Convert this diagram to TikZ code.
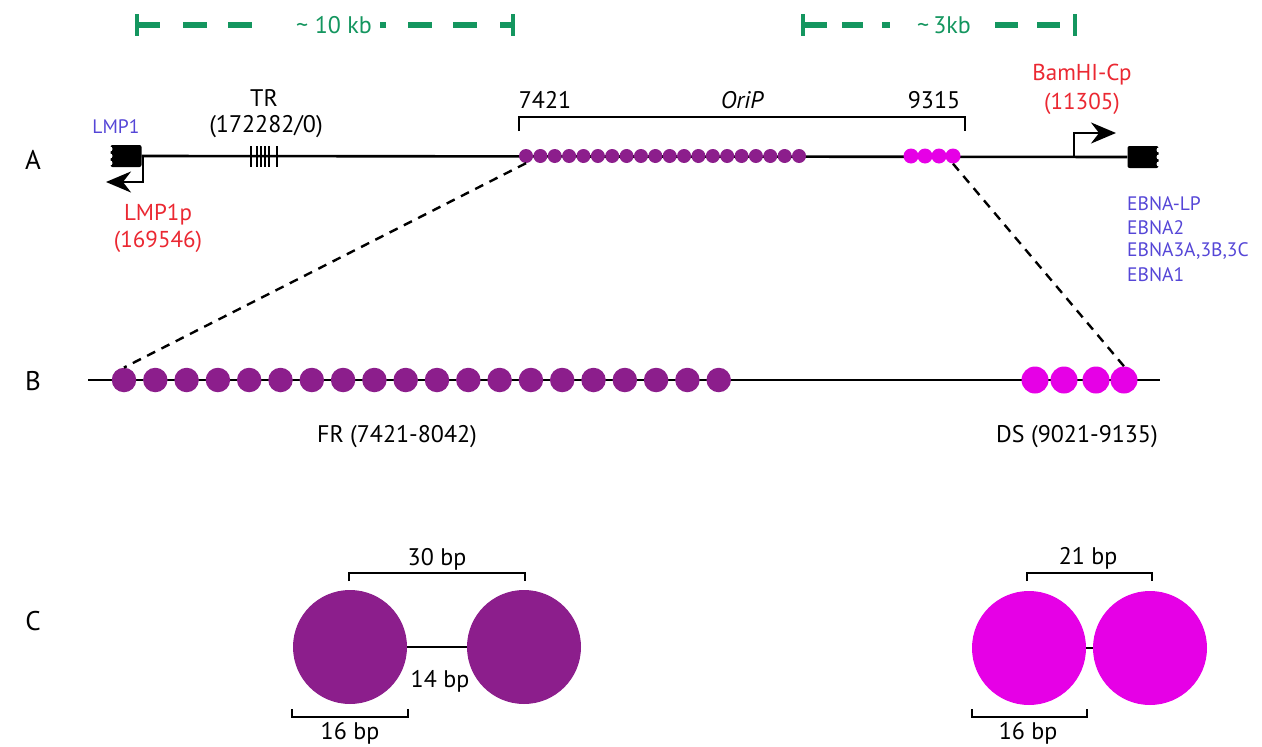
\documentclass[tikz,border=0pt]{standalone}
\usepackage{fontspec}
\setmainfont{PT Sans}
\usetikzlibrary{arrows.meta}
\definecolor{frpurple}{RGB}{140,30,140}
\definecolor{dsmag}{RGB}{230,0,230}
\definecolor{scalegreen}{RGB}{20,150,95}
\definecolor{genblue}{RGB}{85,70,215}
\definecolor{promred}{RGB}{235,40,50}
\begin{document}
\begin{tikzpicture}[x=1pt,y=-1pt,
  lbl/.style={font=\fontsize{24}{28}\selectfont, inner sep=0pt},
  plbl/.style={font=\fontsize{27}{31}\selectfont, inner sep=0pt},
  blbl/.style={font=\fontsize{19.5}{23}\selectfont, text=genblue, inner sep=0pt, anchor=west},
  rlbl/.style={font=\fontsize{23}{27}\selectfont, text=promred, inner sep=0pt},
  glbl/.style={font=\fontsize{24}{28}\selectfont, text=scalegreen, inner sep=0pt},
  gbar/.style={draw=scalegreen, line width=6pt},
  gtick/.style={draw=scalegreen, line width=4.5pt},
  dnaline/.style={draw=black, line width=2.6pt},
  brack/.style={draw=black, line width=2.5pt},
  genebox/.style={fill=black, draw=none, rounded corners=2pt, minimum width=31pt, minimum height=22pt, inner sep=0pt},
  notch/.style={fill=white, draw=none, circle, minimum size=5pt, inner sep=0pt},
  frA/.style={circle, fill=frpurple, draw=none, minimum size=14pt, inner sep=0pt},
  dsA/.style={circle, fill=dsmag, draw=none, minimum size=15pt, inner sep=0pt},
  frB/.style={circle, fill=frpurple, draw=none, minimum size=24.5pt, inner sep=0pt},
  dsB/.style={circle, fill=dsmag, draw=none, minimum size=27pt, inner sep=0pt},
  frC/.style={circle, fill=frpurple, draw=none, minimum size=114pt, inner sep=0pt},
  dsC/.style={circle, fill=dsmag, draw=none, minimum size=114pt, inner sep=0pt},
  zoomline/.style={draw=black, line width=2.4pt, dash pattern=on 9pt off 7pt},
  prom/.style={draw=black, line width=2.6pt, -{Stealth[length=25pt,width=21pt,inset=8pt]}}
]
\useasboundingbox (0,0) rectangle (1262,747);
\fill[white] (0,0) rectangle (1262,747);

% ---------- green scale bars ----------
\draw[gtick] (137,14) -- (137,36);
\draw[gbar] (137,25) -- (160,25);
\draw[gbar] (183,25) -- (207,25);
\draw[gbar] (228,25) -- (252,25);
\node[glbl] (kb10) at (334,25) {\textasciitilde\ 10 kb};
\draw[gbar] (380,25) -- (386,25);
\draw[gbar] (408,25) -- (432,25);
\draw[gbar] (453,25) -- (477,25);
\draw[gbar] (500,25) -- (513,25);
\draw[gtick] (513,14) -- (513,36);

\draw[gtick] (803,14) -- (803,36);
\draw[gbar] (803,25) -- (827,25);
\draw[gbar] (842,25) -- (863,25);
\draw[gbar] (882,25) -- (890,25);
\node[glbl] (kb3) at (944,25) {\textasciitilde\,3kb};
\draw[gbar] (995,25) -- (1018,25);
\draw[gbar] (1037,25) -- (1060,25);
\draw[gtick] (1075,14) -- (1075,36);

% ---------- panel labels ----------
\node[plbl] (pA) at (33,160) {A};
\node[plbl] (pB) at (33,381) {B};
\node[plbl] (pC) at (33,621) {C};

% ---------- panel A ----------
\node[genebox] (lmp) at (126,156) {};
\node[genebox] (ebna) at (1143,157) {};
\draw[dnaline] (lmp.east) -- (ebna.west);
\foreach \y [count=\k] in {149,156,163} {
  \node[notch] (ln\k) at (110,\y) {};
  \node[notch] (en\k) at (1159,\y+1) {};
}
% TR repeats
\coordinate (tr) at (264,156);
\foreach \dx/\w in {-13/2.6,-7/1.8,-3/1.8,1/1.8,5/1.8,13/2.6} \draw[black, line width=\w pt] ([xshift=\dx pt]tr) ++(0,-10) -- ++(0,21);

\node[lbl] (trl) at (264,98) {TR};
\node[lbl] (trn) at (266,127) {(172282/0)};
\node[blbl, anchor=center] (lmpl) at (116,127) {LMP1};

% LMP1 promoter
\coordinate (lp1) at (143,156);
\coordinate (lp2) at (143,182);
\coordinate (lp3) at (106,182);
\draw[prom] (lp1) -- (lp2) -- (lp3);
\node[rlbl] (lmpp) at (158,215) {LMP1p};
\node[rlbl] (lmppn) at (158,242) {(169546)};

% FR dots in A
\foreach \i in {0,...,19} \node[frA] (fa\i) at ({526+\i*14.37},156) {};
% DS dots in A
\foreach \i in {0,...,3} \node[dsA] (da\i) at ({911+\i*14},156) {};

% OriP bracket
\draw[brack] (519,131) -- (519,117) -- (965,117) -- (965,131);
\node[lbl] (n7421) at (545,100) {7421};
\node[lbl] (orip) at (742,100) {\itshape OriP};
\node[lbl] (n9315) at (934,100) {9315};

% BamHI-Cp promoter
\coordinate (cp1) at (1074,156);
\coordinate (cp2) at (1074,133);
\coordinate (cp3) at (1116,133);
\draw[prom] (cp1) -- (cp2) -- (cp3);
\node[rlbl] (bam) at (1082,75) {BamHI-Cp};
\node[rlbl] (bamn) at (1082,104) {(11305)};

% EBNA labels
\node[blbl] (e1) at (1127,204) {EBNA-LP};
\node[blbl] (e2) at (1127,228) {EBNA2};
\node[blbl] (e3) at (1127,251) {EBNA3A,3B,3C};
\node[blbl] (e4) at (1127,275) {EBNA1};

% ---------- panel B ----------
\coordinate (bl) at (88,380);
\coordinate (br) at (1160,380);
\draw[dnaline] (bl) -- (br);
\foreach \i in {0,...,19} \node[frB] (fb\i) at ({124+\i*31.3},380) {};
\node[dsB] (db0) at (1035,380) {};
\node[dsB] (db1) at (1064,380) {};
\node[dsB] (db2) at (1096,380) {};
\node[dsB] (db3) at (1124,380) {};
\node[lbl] (frl) at (397,437) {FR (7421-8042)};
\node[lbl] (dsl) at (1077,437) {DS (9021-9135)};

% zoom lines
\draw[zoomline] (fa0.south) -- (fb0.north);
\draw[zoomline] (da3.south) -- (db3.north);

% ---------- panel C ----------
\node[frC] (c1) at (350,647) {};
\node[frC] (c2) at (524,647) {};
\draw[dnaline] (c1.east) -- (c2.west);
\draw[brack] (349,581) -- (349,573) -- (525,573) -- (525,581);
\node[lbl] (b30) at (437,559) {30 bp};
\node[lbl] (b14) at (440,681) {14 bp};
\draw[brack] (292,709) -- (292,717) -- (408,717) -- (408,709);
\node[lbl] (b16a) at (350,733) {16 bp};

\node[dsC] (c3) at (1029,648) {};
\node[dsC] (c4) at (1150,648) {};
\draw[dnaline] (c3.east) -- (c4.west);
\draw[brack] (1027,581) -- (1027,573) -- (1152,573) -- (1152,581);
\node[lbl] (b21) at (1088,558) {21 bp};
\draw[brack] (972,709) -- (972,717) -- (1087,717) -- (1087,709);
\node[lbl] (b16b) at (1028,733) {16 bp};
\end{tikzpicture}
\end{document}
